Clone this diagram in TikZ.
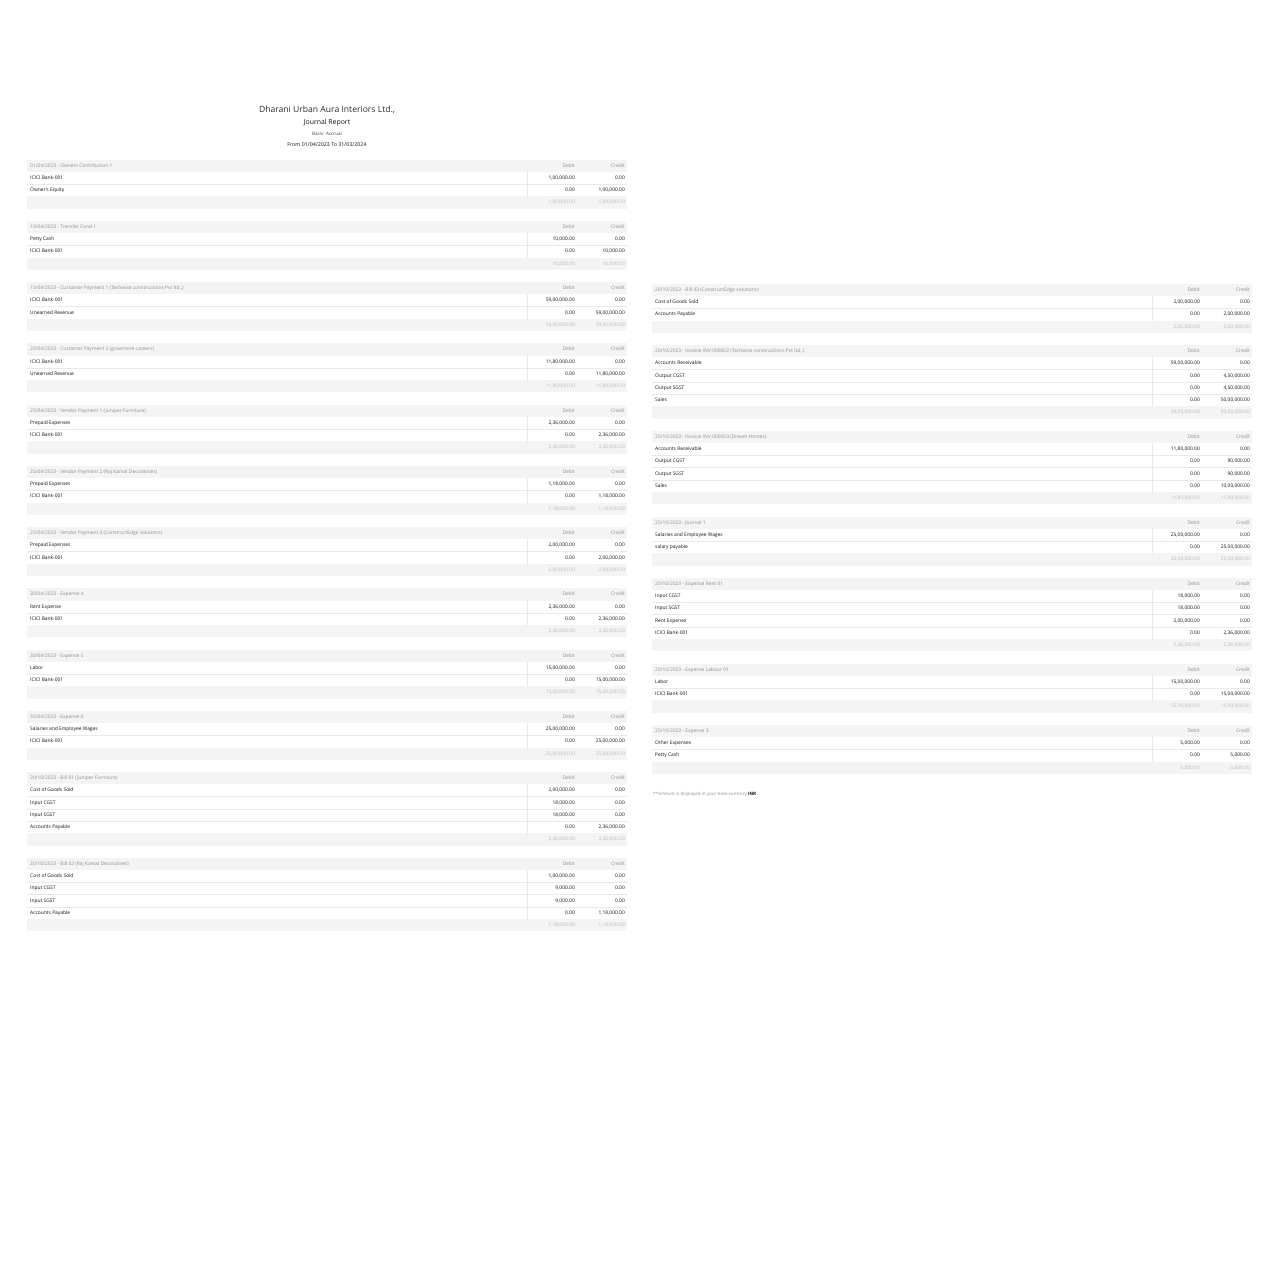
\documentclass[tikz,border=0pt]{standalone}
\usepackage{fontspec}
\setmainfont{Open Sans}
\definecolor{bandgray}{HTML}{F5F4F2}
\definecolor{rulegray}{HTML}{EAE9E7}
\definecolor{headgray}{HTML}{8E8E8E}
\definecolor{totgray}{HTML}{B8B8B8}
\definecolor{inkgray}{HTML}{141414}
\begin{document}
\begin{tikzpicture}[x=1pt, y=-1pt, line cap=round, inner sep=0pt,
  small/.style={font=\fontsize{4.9}{6}\selectfont, text height=3.6pt, text depth=1pt},
  hdr/.style={small, text=headgray},
  acc/.style={small, text=inkgray},
  tot/.style={small, text=totgray},
  band/.style={fill=bandgray},
  rule/.style={draw=rulegray, line width=0.4pt}]
\useasboundingbox[fill=white] (0,0) rectangle (1280,1280);
% report heading
\node[font=\fontsize{8.6}{10}\selectfont, text=inkgray!90] (company) at (327,110) {Dharani Urban Aura Interiors Ltd.,};
\node[font=\fontsize{6.9}{8}\selectfont, text=inkgray] (report) at (327,123) {Journal Report};
\node[font=\fontsize{4.6}{5}\selectfont, text=inkgray!80] (basis) at (327,134) {Basis: Accrual};
\node[font=\fontsize{5.3}{6}\selectfont, text=inkgray] (period) at (327,145) {From 01/04/2023 To 31/03/2024};
% journal entries: column x / header y / rows / title / lines / total
\foreach \cx/\hy/\nr/\jtitle/\jrows/\jtot [count=\b] in {
  27/165.8/2/{01/04/2023 - Owners Contribution 1}/{{ICICI Bank-001}/{1,00,000.00}/{0.00},{Owner's Equity}/{0.00}/{1,00,000.00}}/{1,00,000.00},
  27/227.05/2/{10/04/2023 - Transfer Fund 1}/{{Petty Cash}/{10,000.00}/{0.00},{ICICI Bank-001}/{0.00}/{10,000.00}}/{10,000.00},
  27/288.3/2/{15/04/2023 - Customer Payment 1 (Techwise constructions Pvt ltd.,)}/{{ICICI Bank-001}/{59,00,000.00}/{0.00},{Unearned Revenue}/{0.00}/{59,00,000.00}}/{59,00,000.00},
  27/349.55/2/{20/04/2023 - Customer Payment 2 (growmore careers)}/{{ICICI Bank-001}/{11,80,000.00}/{0.00},{Unearned Revenue}/{0.00}/{11,80,000.00}}/{11,80,000.00},
  27/410.8/2/{25/04/2023 - Vendor Payment 1 (Juniper Furniture)}/{{Prepaid Expenses}/{2,36,000.00}/{0.00},{ICICI Bank-001}/{0.00}/{2,36,000.00}}/{2,36,000.00},
  27/472.05/2/{25/04/2023 - Vendor Payment 2 (Raj Kamal Decoratives)}/{{Prepaid Expenses}/{1,18,000.00}/{0.00},{ICICI Bank-001}/{0.00}/{1,18,000.00}}/{1,18,000.00},
  27/533.3/2/{25/04/2023 - Vendor Payment 3 (ConstructEdge solutions)}/{{Prepaid Expenses}/{2,00,000.00}/{0.00},{ICICI Bank-001}/{0.00}/{2,00,000.00}}/{2,00,000.00},
  27/594.55/2/{30/04/2023 - Expense 4}/{{Rent Expense}/{2,36,000.00}/{0.00},{ICICI Bank-001}/{0.00}/{2,36,000.00}}/{2,36,000.00},
  27/655.8/2/{30/04/2023 - Expense 5}/{{Labor}/{15,00,000.00}/{0.00},{ICICI Bank-001}/{0.00}/{15,00,000.00}}/{15,00,000.00},
  27/717.05/2/{30/04/2023 - Expense 6}/{{Salaries and Employee Wages}/{25,00,000.00}/{0.00},{ICICI Bank-001}/{0.00}/{25,00,000.00}}/{25,00,000.00},
  27/778.3/4/{20/10/2023 - Bill 01 (Juniper Furniture)}/{{Cost of Goods Sold}/{2,00,000.00}/{0.00},{Input CGST}/{18,000.00}/{0.00},{Input SGST}/{18,000.00}/{0.00},{Accounts Payable}/{0.00}/{2,36,000.00}}/{2,36,000.00},
  27/864.05/4/{20/10/2023 - Bill 02 (Raj Kamal Decoratives)}/{{Cost of Goods Sold}/{1,00,000.00}/{0.00},{Input CGST}/{9,000.00}/{0.00},{Input SGST}/{9,000.00}/{0.00},{Accounts Payable}/{0.00}/{1,18,000.00}}/{1,18,000.00},
  652/290/2/{20/10/2023 - Bill 03 (ConstructEdge solutions)}/{{Cost of Goods Sold}/{2,00,000.00}/{0.00},{Accounts Payable}/{0.00}/{2,00,000.00}}/{2,00,000.00},
  652/351.25/4/{20/10/2023 - Invoice INV-000002 (Techwise constructions Pvt ltd.,)}/{{Accounts Receivable}/{59,00,000.00}/{0.00},{Output CGST}/{0.00}/{4,50,000.00},{Output SGST}/{0.00}/{4,50,000.00},{Sales}/{0.00}/{50,00,000.00}}/{59,00,000.00},
  652/437/4/{20/10/2023 - Invoice INV-000003 (Dream Homes)}/{{Accounts Receivable}/{11,80,000.00}/{0.00},{Output CGST}/{0.00}/{90,000.00},{Output SGST}/{0.00}/{90,000.00},{Sales}/{0.00}/{10,00,000.00}}/{11,80,000.00},
  652/522.75/2/{20/10/2023 - Journal 1}/{{Salaries and Employee Wages}/{25,00,000.00}/{0.00},{salary payable}/{0.00}/{25,00,000.00}}/{25,00,000.00},
  652/584/4/{20/10/2023 - Expense Rent 01}/{{Input CGST}/{18,000.00}/{0.00},{Input SGST}/{18,000.00}/{0.00},{Rent Expense}/{2,00,000.00}/{0.00},{ICICI Bank-001}/{0.00}/{2,36,000.00}}/{2,36,000.00},
  652/669.75/2/{20/10/2023 - Expense Labour 01}/{{Labor}/{15,00,000.00}/{0.00},{ICICI Bank-001}/{0.00}/{15,00,000.00}}/{15,00,000.00},
  652/731/2/{20/10/2023 - Expense 3}/{{Other Expenses}/{5,000.00}/{0.00},{Petty Cash}/{0.00}/{5,000.00}}/{5,000.00}}
{
  \fill[band] (\cx,{\hy-6.1}) rectangle ({\cx+600},{\hy+6.1});
  \fill[band] (\cx,{\hy+(\nr+1)*12.25-6.1}) rectangle ({\cx+600},{\hy+(\nr+1)*12.25+6.1});
  \draw[rule] ({\cx+500},{\hy+6.1}) -- ({\cx+500},{\hy+(\nr+0.5)*12.25});
  \node[hdr, anchor=west] (b\b-title) at ({\cx+3},\hy) {\jtitle};
  \node[hdr, anchor=east] (b\b-dr) at ({\cx+548},\hy) {Debit};
  \node[hdr, anchor=east] (b\b-cr) at ({\cx+598},\hy) {Credit};
  \foreach \acc/\dbt/\crd [count=\ri] in \jrows {
    \ifnum\ri<\nr\relax
      \draw[rule] (\cx,{\hy+(\ri+0.5)*12.25}) -- ({\cx+600},{\hy+(\ri+0.5)*12.25});
    \fi
    \node[acc, anchor=west] (b\b-a\ri) at ({\cx+3},{\hy+\ri*12.25}) {\acc};
    \node[acc, anchor=east] (b\b-d\ri) at ({\cx+548},{\hy+\ri*12.25}) {\dbt};
    \node[acc, anchor=east] (b\b-c\ri) at ({\cx+598},{\hy+\ri*12.25}) {\crd};
  }
  \node[tot, anchor=east] (b\b-td) at ({\cx+548},{\hy+(\nr+1)*12.25}) {\jtot};
  \node[tot, anchor=east] (b\b-tc) at ({\cx+598},{\hy+(\nr+1)*12.25}) {\jtot};
}
\node[hdr, font=\fontsize{4.5}{5}\selectfont, anchor=west] (note) at (653,794) {**Amount is displayed in your base currency \textcolor{inkgray}{\bfseries INR}};
\end{tikzpicture}
\end{document}
